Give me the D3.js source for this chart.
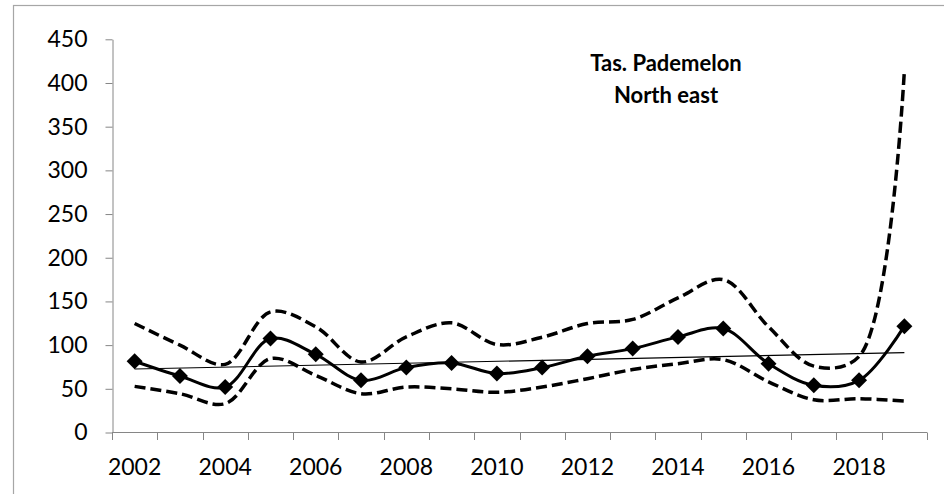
<!DOCTYPE html>
<html lang="en">
    <head>
        <meta charset="utf-8">
        <title>Tas. Pademelon North east</title>
        <script type="text/javascript" src="https://cdn.jsdelivr.net/npm/d3@7"></script>
        <style type="text/css">
            body { margin: 0; background: #fff; }
            text { font-family: Lato, "Open Sans", sans-serif; }
        </style>
    </head>

    <body>
        <script type="text/javascript">
            // Survey years and values
            var years = [2002, 2003, 2004, 2005, 2006, 2007, 2008, 2009, 2010,
                         2011, 2012, 2013, 2014, 2015, 2016, 2017, 2018, 2019];
            var estimate = [81.5, 64.6, 52, 107.5, 89.5, 59.7, 74.3, 79.6, 67.4,
                            74.3, 87.2, 96, 109.4, 119, 78.8, 54, 59.7, 121.7];
            var upper = [124.8, 100, 78, 138, 121, 80.7, 109.4, 125.5, 100.7,
                         109, 124.7, 129.4, 154, 175, 121, 76, 87, 414];
            var lower = [52.8, 44.4, 33, 84.6, 65.4, 44.4, 52, 50, 46,
                         52, 61.6, 72, 78.8, 83.4, 58, 37.5, 38.7, 36];
            var yTicks = [0, 50, 100, 150, 200, 250, 300, 350, 400, 450];
            var labelYears = [2002, 2004, 2006, 2008, 2010, 2012, 2014, 2016, 2018];
            var titleLines = ["Tas. Pademelon", "North east"];

            var w = 944;
            var h = 494;

            var svg = d3.select("body")
                        .append("svg")
                        .attr("width", w)
                        .attr("height", h);

            // chart frame (cut off at right and bottom)
            svg.append("rect")
                .attr("x", 13.5)
                .attr("y", 5.5)
                .attr("width", w)
                .attr("height", h)
                .attr("fill", "none")
                .attr("stroke", "#a6a6a6")
                .attr("stroke-width", 1.2);

            var xScale = d3.scaleBand()
                            .domain(years)
                            .range([112, 927])
                            .padding(0);

            var yScale = d3.scaleLinear()
                            .domain([0, 450])
                            .range([432.5, 39.3]);

            function cx(d, i) {
                return xScale(years[i]) + xScale.bandwidth() / 2;
            }

            // y axis
            var yAxis = d3.axisLeft(yScale)
                            .tickValues(yTicks)
                            .tickSize(7)
                            .tickSizeOuter(0)
                            .tickPadding(18);

            var gy = svg.append("g")
                        .attr("transform", "translate(112.5,0)")
                        .call(yAxis);
            gy.select(".domain").attr("stroke", "#868686");
            gy.selectAll(".tick line").attr("stroke", "#868686");
            gy.selectAll(".tick text")
                .attr("font-size", "23px")
                .attr("font-family", "Lato, sans-serif")
                .attr("fill", "#000");

            // x axis: category axis with ticks between categories
            var gx = svg.append("g");
            var xr = xScale.range();
            gx.append("line")
                .attr("x1", xr[0])
                .attr("x2", xr[1])
                .attr("y1", 432.5)
                .attr("y2", 432.5)
                .attr("stroke", "#868686");
            var bounds = years.map(function(d) { return xScale(d); }).concat([xr[1]]);
            gx.selectAll("line.tick")
                .data(bounds)
                .enter()
                .append("line")
                .attr("class", "tick")
                .attr("x1", function(d) { return Math.round(d) + 0.5; })
                .attr("x2", function(d) { return Math.round(d) + 0.5; })
                .attr("y1", 432.5)
                .attr("y2", 440)
                .attr("stroke", "#868686");
            gx.selectAll("text")
                .data(labelYears)
                .enter()
                .append("text")
                .text(function(d) { return d; })
                .attr("x", function(d) { return xScale(d) + xScale.bandwidth() / 2; })
                .attr("y", 475)
                .attr("font-size", "23px")
                .attr("text-anchor", "middle")
                .attr("fill", "#000");

            // least squares trend of the estimate series
            var n = estimate.length;
            var mx = d3.mean(d3.range(n));
            var my = d3.mean(estimate);
            var sxy = d3.sum(estimate, function(d, i) { return (i - mx) * (d - my); });
            var sxx = d3.sum(d3.range(n), function(i) { return (i - mx) * (i - mx); });
            var slope = sxy / sxx;
            var trend = [my - slope * mx, my + slope * (n - 1 - mx)];

            svg.append("line")
                .attr("x1", cx(null, 0))
                .attr("x2", cx(null, n - 1))
                .attr("y1", yScale(trend[0]))
                .attr("y2", yScale(trend[1]))
                .attr("stroke", "#000")
                .attr("stroke-width", 1.1);

            var line = d3.line()
                        .x(cx)
                        .y(function(d) { return yScale(d); })
                        .curve(d3.curveCatmullRom);

            // confidence bounds
            [upper, lower].forEach(function(series) {
                svg.append("path")
                    .datum(series)
                    .attr("d", line)
                    .attr("fill", "none")
                    .attr("stroke", "#000")
                    .attr("stroke-width", 3.5)
                    .attr("stroke-dasharray", "11,5");
            });

            // estimate line with diamond markers
            svg.append("path")
                .datum(estimate)
                .attr("d", line)
                .attr("fill", "none")
                .attr("stroke", "#000")
                .attr("stroke-width", 3);

            svg.selectAll("path.marker")
                .data(estimate)
                .enter()
                .append("path")
                .attr("class", "marker")
                .attr("d", d3.symbol().type(d3.symbolSquare).size(128))
                .attr("transform", function(d, i) {
                    return "translate(" + cx(d, i) + "," + yScale(d) + ") rotate(45)";
                })
                .attr("fill", "#000");

            // title inside the plot
            svg.selectAll("text.title")
                .data(titleLines)
                .enter()
                .append("text")
                .attr("class", "title")
                .text(function(d) { return d; })
                .attr("x", 666)
                .attr("y", function(d, i) { return 71 + i * 32; })
                .attr("font-size", "22px")
                .attr("font-weight", "bold")
                .attr("text-anchor", "middle")
                .attr("fill", "#000");
        </script>
    </body>
</html>
